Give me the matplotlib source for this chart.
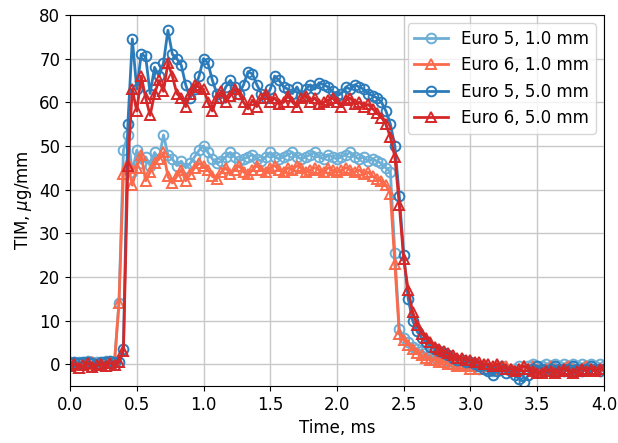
import numpy as np
import matplotlib
matplotlib.use("Agg")
import matplotlib.pyplot as plt

# Sample clock, ms (30 kHz -> 1/30 ms step)
time_ms = np.linspace(0.0, 4.0, 121)

# TIM traces, ug/mm
tim_e5_1mm = [
    0.5, 0.2, 0.6, 0.3, 0.8, 0.4, 0.5, 0.2, 0.7, 0.4,
    0.6, 14.0, 49.0, 52.5, 44.0, 49.0, 46.0, 47.5, 45.5, 48.5,
    47.0, 52.5, 48.0, 47.0, 45.5, 46.5, 45.0, 46.0, 47.5, 49.0,
    50.0, 48.5, 47.0, 46.0, 46.5, 47.5, 48.5, 47.5, 46.5, 47.0,
    47.5, 48.0, 47.0, 46.5, 47.5, 48.5, 47.5, 47.0, 47.5, 48.0,
    48.5, 47.5, 47.0, 47.5, 48.0, 48.5, 47.5, 47.0, 48.0, 47.5,
    47.0, 47.5, 48.0, 48.5, 47.5, 47.0, 47.5, 46.5, 47.0, 46.5,
    46.0, 45.0, 44.0, 25.5, 8.0, 6.0, 5.0, 4.0, 3.5, 3.0,
    2.5, 2.0, 1.5, 1.5, 1.0, 1.0, 0.5, 0.5, 0.0, 0.0,
    -0.5, -0.5, -1.0, -0.5, -1.0, -1.5, -1.0, -0.5, -1.0, -1.5,
    -1.0, -0.5, -1.0, -0.5, 0.0, -0.5, -0.5, 0.0, -0.5, 0.0,
    -0.5, 0.0, -0.5, 0.0, -0.5, 0.0, -0.5, 0.0, -0.5, 0.0,
    -0.5,
]
tim_e6_1mm = [
    -0.3, 0.2, -0.1, 0.3, 0.0, 0.4, 0.1, 0.3, 0.5, 0.2,
    0.4, 14.0, 43.5, 46.0, 41.0, 45.0, 48.0, 42.0, 44.0, 46.0,
    47.0, 48.5, 43.0, 41.5, 43.0, 44.5, 42.0, 43.5, 45.0, 46.0,
    45.5, 44.5, 43.0, 42.5, 44.0, 45.0, 43.5, 44.5, 45.5, 44.0,
    43.5, 44.5, 45.5, 44.5, 44.0, 45.0, 45.5, 44.5, 44.0, 45.0,
    44.5, 45.5, 45.0, 44.0, 44.5, 45.0, 44.5, 44.0, 45.0, 44.5,
    44.0, 44.5, 45.0, 44.5, 44.0, 44.5, 43.5, 44.0, 43.0, 42.5,
    42.0, 41.0, 39.0, 23.0, 7.0, 5.5, 4.5, 3.5, 2.5, 2.0,
    1.5, 1.0, 1.0, 0.5, 0.5, 0.0, 0.0, -0.5, 0.0, -0.5,
    -1.0, -0.5, -1.0, -0.5, -1.0, -1.0, -0.5, -1.0, -0.5, -1.0,
    -1.5, -1.0, -0.5, -1.0, -0.5, -1.0, -1.5, -1.0, -0.5, -1.0,
    -1.5, -1.0, -0.5, -1.0, -1.5, -1.0, -0.5, -1.0, -1.5, -1.0,
    -1.0,
]
tim_e5_5mm = [
    0.3, 0.5, 0.2, 0.4, 0.6, 0.3, 0.1, 0.5, 0.4, 0.8,
    0.5, 0.6, 3.5, 55.0, 74.5, 63.0, 71.0, 70.5, 62.0, 68.0,
    66.0, 69.0, 76.5, 71.0, 70.0, 68.5, 64.0, 61.0, 63.0, 66.0,
    70.0, 69.0, 65.0, 62.0, 61.0, 63.5, 65.0, 63.5, 62.0, 64.0,
    67.0, 66.5, 64.0, 62.0, 61.0, 63.0, 66.0, 65.0, 63.5, 63.0,
    62.0, 63.5, 61.5, 63.0, 64.0, 63.0, 64.5, 64.0, 63.5, 62.5,
    61.5, 62.0, 63.5, 63.0, 64.0, 63.5, 63.0, 62.0, 61.5, 61.0,
    60.0, 58.0, 55.0, 50.0, 38.5, 25.0, 15.0, 10.0, 7.5, 6.0,
    5.0, 4.0, 3.5, 3.0, 2.5, 2.0, 1.5, 1.0, 1.0, 0.5,
    0.5, 0.0, -0.5, -1.0, -1.5, -2.5, -1.5, -1.0, -2.0, -1.5,
    -2.5, -3.5, -4.0, -2.5, -1.0, -0.5, -1.0, -1.5, -1.0, -0.5,
    -1.0, -1.5, -1.0, -0.5, -1.0, -1.5, -1.0, -0.5, -1.0, -1.5,
    -1.0,
]
tim_e6_5mm = [
    -0.5, 0.0, -0.8, -0.3, 0.2, -0.6, -0.2, 0.1, -0.4, 0.3,
    -0.2, 0.4, 3.0, 45.5, 63.0, 58.0, 66.0, 61.0, 57.0, 62.0,
    65.0, 62.5, 69.0, 66.0, 62.0, 61.0, 59.0, 62.0, 64.0, 63.5,
    63.0, 60.0, 58.0, 61.0, 62.5, 60.0, 61.5, 63.0, 62.0, 60.0,
    58.5, 60.5, 59.0, 61.0, 62.0, 60.0, 61.0, 59.5, 60.0, 61.5,
    60.0, 59.0, 61.0, 61.5, 60.0, 61.0, 59.5, 60.0, 60.5, 61.0,
    60.0, 59.0, 60.5, 61.0, 59.5, 60.0, 59.0, 59.5, 58.5, 57.5,
    56.5, 55.0, 52.0, 47.5, 36.5, 24.0, 17.0, 12.0, 9.0, 7.0,
    6.0, 5.0, 4.0, 3.5, 3.0, 2.5, 2.0, 1.5, 1.5, 1.0,
    1.0, 0.5, 0.5, 0.0, 0.0, -0.5, 0.0, -0.5, -1.0, -1.0,
    -1.5, -1.0, -0.5, -1.0, -1.5, -2.0, -2.0, -1.5, -1.5, -2.0,
    -1.5, -1.0, -1.5, -2.0, -1.5, -1.0, -1.5, -1.0, -1.5, -1.0,
    -1.0,
]

series = [
    ("Euro 5, 1.0 mm", tim_e5_1mm, "#6baed6", "o"),
    ("Euro 6, 1.0 mm", tim_e6_1mm, "#fb6a4a", "^"),
    ("Euro 5, 5.0 mm", tim_e5_5mm, "#2b7bba", "o"),
    ("Euro 6, 5.0 mm", tim_e6_5mm, "#d62728", "^"),
]

plt.rcParams["font.size"] = 12

fig = plt.figure(figsize=(6.18, 4.43), dpi=100)
ax = fig.add_axes([0.1133, 0.1287, 0.864, 0.8375])

for label, vals, col, mk in series:
    ax.plot(time_ms, vals, color=col, marker=mk, markersize=7,
            markerfacecolor="none", markeredgewidth=1.4, linewidth=2.0,
            label=label)

ax.set_xlim(0.0, 4.0)
ax.set_ylim(-5, 80)
ax.set_xticks(np.arange(0.0, 4.01, 0.5))
ax.set_yticks(np.arange(0, 81, 10))
ax.grid(True, color="#c8c8c8", linewidth=1.0)
ax.set_axisbelow(True)
ax.set_xlabel("Time, ms")
ax.set_ylabel(r"TIM, $\mu$g/mm")
ax.legend(loc="upper right")

fig.savefig("out.png", dpi=100)
